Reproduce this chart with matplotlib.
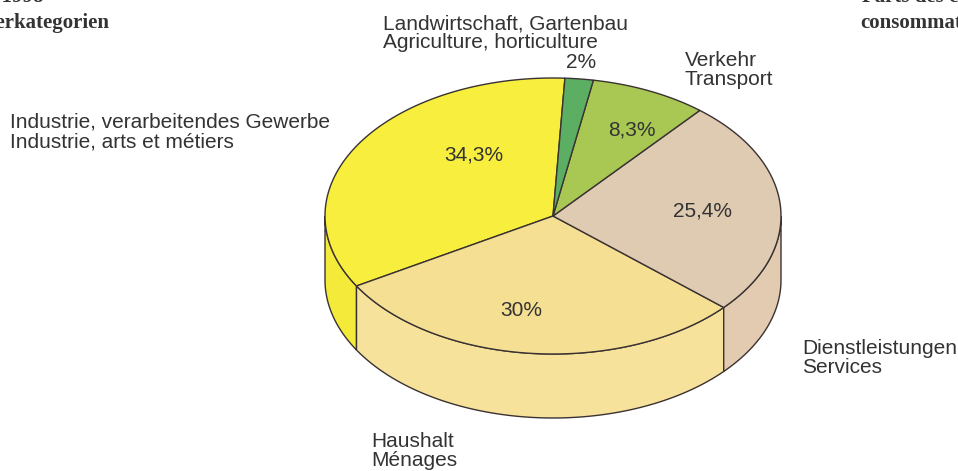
import numpy as np
import matplotlib.pyplot as plt
from matplotlib.patches import Polygon

# data (counter-clockwise, starting at the top)
labels_de = ['Industrie, verarbeitendes Gewerbe', 'Haushalt', 'Dienstleistungen',
             'Verkehr', 'Landwirtschaft, Gartenbau']
labels_fr = ['Industrie, arts et métiers', 'Ménages', 'Services',
             'Transport', 'Agriculture, horticulture']
values = [34.3, 30.0, 25.4, 8.3, 2.0]
pct_text = ['34,3%', '30%', '25,4%', '8,3%', '2%']
top_colors = ['#f7ee3e', '#f5df92', '#dfcab2', '#a9c853', '#5cae62']
side_colors = ['#f4ea3a', '#f7e29c', '#e2cbb0', '#a9c853', '#5cae62']

# pie geometry (pixels)
cx, cy = 553, 216
a, b = 228, 138
depth = 64
start = 87.0

fig = plt.figure(figsize=(9.58, 4.71), dpi=100)
ax = fig.add_axes([0, 0, 1, 1])
ax.set_xlim(0, 958)
ax.set_ylim(471, 0)
ax.axis('off')

def pt(t, dy=0):
    r = np.radians(t)
    return cx + a*np.cos(r), cy - b*np.sin(r) + dy

edge = '#3a3232'
angles = start + np.concatenate([[0], np.cumsum(values)]) * 3.6

# side walls (front half only: 180..360 deg)
for i in range(len(values)):
    t0, t1 = angles[i], angles[i+1]
    for off in (0, 360, -360):
        s0, s1 = max(t0 + off, 180), min(t1 + off, 360)
        if s1 <= s0:
            continue
        ts = np.linspace(s0, s1, 80)
        xt, yt = pt(ts)
        xb, yb = pt(ts[::-1], depth)
        poly = np.column_stack([np.r_[xt, xb], np.r_[yt, yb]])
        ax.add_patch(Polygon(poly, closed=True, fc=side_colors[i], ec=edge, lw=1.0))

# top face
for i in range(len(values)):
    ts = np.linspace(angles[i], angles[i+1], 120)
    x, y = pt(ts)
    poly = np.column_stack([np.r_[cx, x], np.r_[cy, y]])
    ax.add_patch(Polygon(poly, closed=True, fc=top_colors[i], ec=edge, lw=1.0))

font = 'Liberation Sans'
tc = '#333333'
fs = 15

# percentage labels
pct_pos = [(474, 155), (521, 310), (703, 211), (632, 130), (581, 62)]
for (x, y), s in zip(pct_pos, pct_text):
    ax.text(x, y, s, ha='center', va='center', fontsize=fs, family=font, color=tc)

# category labels
lab_pos = [(10, 132), (371, 451), (802, 358), (685, 70), (383, 33)]
for (x, y), de, fr in zip(lab_pos, labels_de, labels_fr):
    ax.text(x, y, de + '\n' + fr, ha='left', va='center', fontsize=fs,
            family=font, color=tc, linespacing=1.0)

# cut-off headings of the page
hfont = 'Liberation Serif'
hs = 15
ax.text(44, 2, 'Jahr 1998', ha='right', va='baseline', fontsize=hs,
        family=hfont, weight='bold', color='#333333')
ax.text(110, 28, 'Verbraucherkategorien', ha='right', va='baseline', fontsize=hs,
        family=hfont, weight='bold', color='#333333')
ax.text(862, 2, 'Parts des catégories', ha='left', va='baseline', fontsize=hs,
        family=hfont, weight='bold', color='#333333')
ax.text(860, 28, 'consommateurs', ha='left', va='baseline', fontsize=hs,
        family=hfont, weight='bold', color='#333333')

plt.savefig('out.png', dpi=100)
